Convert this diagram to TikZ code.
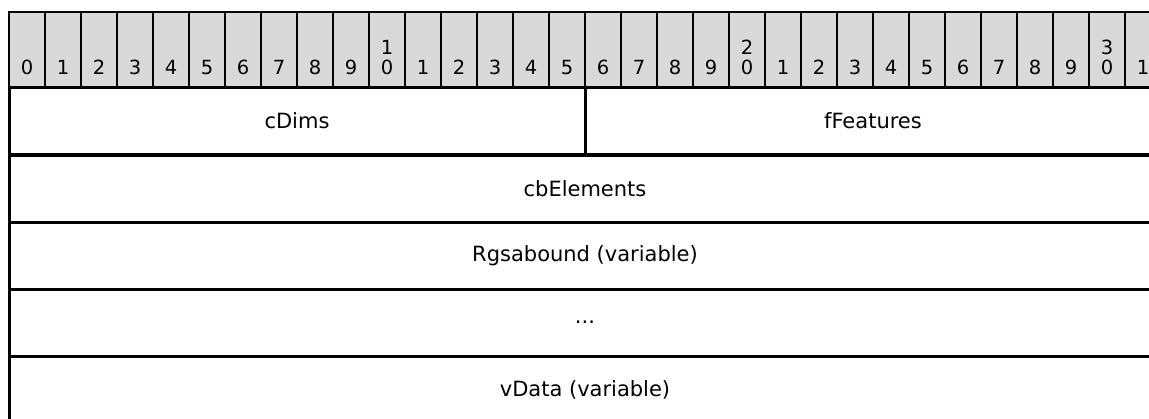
\documentclass[tikz,border=0pt]{standalone}
\usepackage{fontspec}
\setmainfont{DejaVu Sans}
\definecolor{hdrgray}{RGB}{217,217,217}
\tikzset{
  hdrcell/.style={draw=black, line width=1.5pt, fill=hdrgray},
  bitnum/.style={anchor=south, inner sep=0pt, align=center, font=\fontsize{19.5}{20}\selectfont},
  field/.style={draw=black, line width=3pt, minimum height=67pt, inner sep=0pt, font=\fontsize{21}{24}\selectfont}
}
\begin{document}
\begin{tikzpicture}[x=1pt,y=-1pt]
\useasboundingbox (0,0) rectangle (1149,418);
\clip (0,0) rectangle (1149,418);
\fill[white] (0,0) rectangle (1149,418);
% header cells
\foreach \k in {0,...,31}{
  \draw[hdrcell] ({9+36*\k},12) rectangle ({45+36*\k},87);
}
\foreach \k/\lab in {0/0,1/1,2/2,3/3,4/4,5/5,6/6,7/7,8/8,9/9,10/{1\\0},11/1,12/2,13/3,14/4,15/5,16/6,17/7,18/8,19/9,20/{2\\0},21/1,22/2,23/3,24/4,25/5,26/6,27/7,28/8,29/9,30/{3\\0},31/1}{
  \node[bitnum] (b\k) at ({27+36*\k},75) {\lab};
}
% fields
\node[field, minimum width=576pt] (cdims) at (297,121) {cDims};
\node[field, minimum width=576pt] (ffeatures) at (873,121) {fFeatures};
\node[field, minimum width=1152pt] (cbelements) at (585,188.5) {cbElements};
\node[field, minimum width=1152pt] (rgsabound) at (585,255.5) {Rgsabound (variable)};
\node[field, minimum width=1152pt] (dots) at (585,322.5) {...};
\node[field, minimum width=1152pt] (vdata) at (585,389.5) {vData (variable)};
\end{tikzpicture}
\end{document}
